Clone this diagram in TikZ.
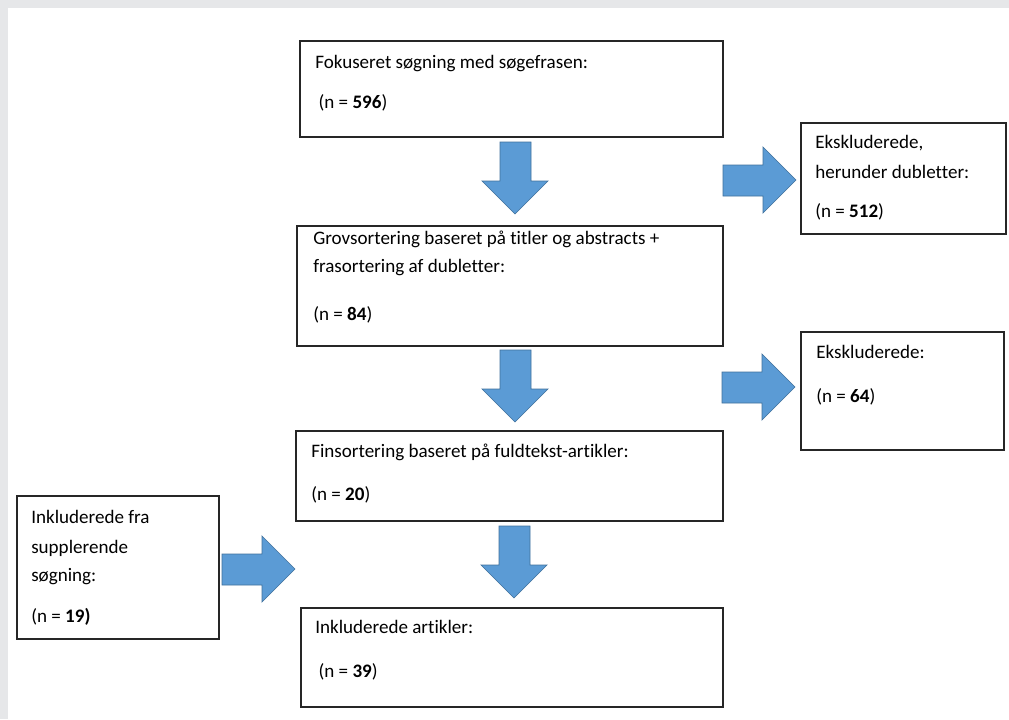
\documentclass[tikz,border=0pt]{standalone}
\usepackage{fontspec}
\setmainfont{Carlito}[Ligatures=NoCommon]
\usepackage{xcolor}
\definecolor{frame}{RGB}{230,231,233}
\definecolor{arrowfill}{RGB}{91,155,213}
\definecolor{arrowline}{RGB}{65,113,156}

\begin{document}
\begin{tikzpicture}
  [x=0.75pt,y=-0.75pt,
   box/.style={draw=black!85,line width=0.9pt,rectangle,anchor=north west,inner sep=0pt,outer sep=0pt},
   txt/.style={anchor=base west,inner sep=0pt,align=left,font=\fontsize{14.3}{21}\selectfont},
   blockarrow/.style={fill=arrowfill,draw=arrowline,line width=0.5pt,line join=miter}]
  \useasboundingbox (0,0) rectangle (1009,719);
  \fill[frame] (0,0) rectangle (1009,719);
  \fill[white] (8,8) rectangle (1009,719);

  \node[box,minimum width=317.25pt,minimum height=72pt] (1) at (300,41) {};
  \node[box,minimum width=319.5pt,minimum height=90pt] (2) at (297,226) {};
  \node[box,minimum width=320.25pt,minimum height=67.5pt] (3) at (296,431) {};
  \node[box,minimum width=316.5pt,minimum height=74.25pt] (4) at (301,608) {};
  \node[box,minimum width=153.75pt,minimum height=83.25pt] (5) at (801,123) {};
  \node[box,minimum width=152.25pt,minimum height=88.5pt] (6) at (801,332) {};
  \node[box,minimum width=151.5pt,minimum height=107.25pt] (7) at (17,496) {};

  % texts, placed at the baseline of their last line
  \node[txt] (t1) at (315,108) {Fokuseret søgning med søgefrasen:\\[9pt]\hspace{2.5pt}(n = \textbf{596})};
  \node[txt] (t2) at (313,320) {Grovsortering baseret på titler og abstracts +\\frasortering af dubletter:\\[15pt](n = \textbf{84})};
  \node[txt] (t3) at (311,500) {Finsortering baseret på fuldtekst-artikler:\\[11.25pt](n = \textbf{20})};
  \node[txt] (t4) at (315,677) {Inkluderede artikler:\\[12pt]\hspace{2.5pt}(n = \textbf{39})};
  \node[txt] (t5) at (815,217) {Ekskluderede,\\[1.5pt]herunder dubletter:\\[8.25pt](n = \textbf{512})};
  \node[txt] (t6) at (816,402) {Ekskluderede:\\[12pt](n = \textbf{64})};
  \node[txt] (t7) at (31,622) {Inkluderede fra\\[1.5pt]supplerende\\søgning:\\[9.75pt](n = \textbf{19)}};

  % block arrows down
  \foreach \x/\y in {515/142,515/350,514/526}
    \draw[blockarrow] (\x-15,\y) -- (\x+16,\y) -- (\x+16,\y+39) -- (\x+33,\y+39)
      -- (\x,\y+72) -- (\x-33,\y+39) -- (\x-15,\y+39) -- cycle;

  % block arrows right
  \foreach \x/\y in {723/180,722/387,222/569}
    \draw[blockarrow] (\x,\y-15) -- (\x+40,\y-15) -- (\x+40,\y-33) -- (\x+73,\y)
      -- (\x+40,\y+33) -- (\x+40,\y+16) -- (\x,\y+16) -- cycle;

\end{tikzpicture}
\end{document}
